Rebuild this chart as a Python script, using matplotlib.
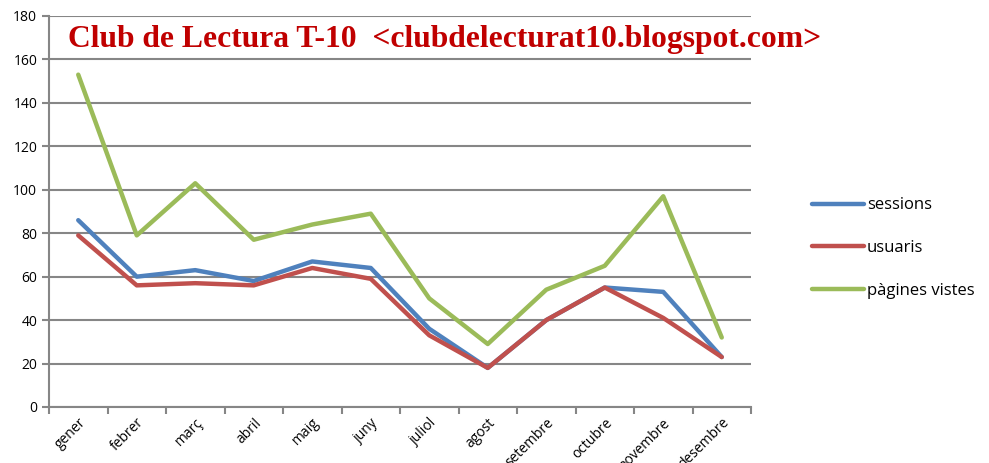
import matplotlib.pyplot as plt
from matplotlib.ticker import FixedLocator, NullFormatter, FixedFormatter

# Dades mensuals del blog
mesos = ['gener', 'febrer', 'març', 'abril', 'maig', 'juny', 'juliol', 'agost',
         'setembre', 'octubre', 'novembre', 'desembre']
sessions = [86, 60, 63, 58, 67, 64, 36, 18, 40, 55, 53, 23]
usuaris = [79, 56, 57, 56, 64, 59, 33, 18, 40, 55, 41, 23]
pagines_vistes = [153, 79, 103, 77, 84, 89, 50, 29, 54, 65, 97, 32]

plt.rcParams['font.family'] = ['Open Sans', 'DejaVu Sans']

fig = plt.figure(figsize=(9.89, 4.63), dpi=100)
ax = fig.add_axes([49 / 989, 56 / 463, 702 / 989, 391 / 463])

x = list(range(len(mesos)))
gris = '#868686'
ax.plot(x, sessions, color='#4F81BD', lw=3.2, label='sessions', solid_capstyle='round')
ax.plot(x, usuaris, color='#C0504D', lw=3.2, label='usuaris', solid_capstyle='round')
ax.plot(x, pagines_vistes, color='#9BBB59', lw=3.2, label='pàgines vistes', solid_capstyle='round')

ax.set_xlim(-0.5, len(mesos) - 0.5)
ax.set_ylim(0, 180)
ax.set_yticks(range(0, 181, 20))
ax.yaxis.grid(True, color=gris, lw=1.5)
ax.set_axisbelow(True)

# marques a les vores de cada categoria, etiquetes al centre
ax.xaxis.set_major_locator(FixedLocator([i - 0.5 for i in range(len(mesos) + 1)]))
ax.xaxis.set_major_formatter(NullFormatter())
ax.xaxis.set_minor_locator(FixedLocator(x))
ax.xaxis.set_minor_formatter(FixedFormatter(mesos))
ax.tick_params(axis='x', which='major', length=5, width=1.5, color=gris, direction='out')
ax.tick_params(axis='x', which='minor', length=0, labelsize=10, pad=6)
ax.tick_params(axis='y', length=5, width=1.5, color=gris, labelsize=10)
for lab in ax.get_xticklabels(minor=True):
    lab.set_rotation(45)
    lab.set_ha('right')
    lab.set_rotation_mode('anchor')

for s in ['top', 'right']:
    ax.spines[s].set_visible(False)
for s in ['left', 'bottom']:
    ax.spines[s].set_color(gris)
    ax.spines[s].set_linewidth(1.5)

fig.text(68 / 989, 1 - 39 / 463, 'Club de Lectura T-10  <clubdelecturat10.blogspot.com>',
         color='#C00000', fontsize=22.8, fontweight='bold', family='Liberation Serif',
         va='center', ha='left')

fig.legend(loc='center left', bbox_to_anchor=(797 / 989, 1 - 248 / 463), frameon=False,
           fontsize=12, handlelength=3.1, handletextpad=0.2, labelspacing=1.6)

fig.savefig('out.png', dpi=100)
